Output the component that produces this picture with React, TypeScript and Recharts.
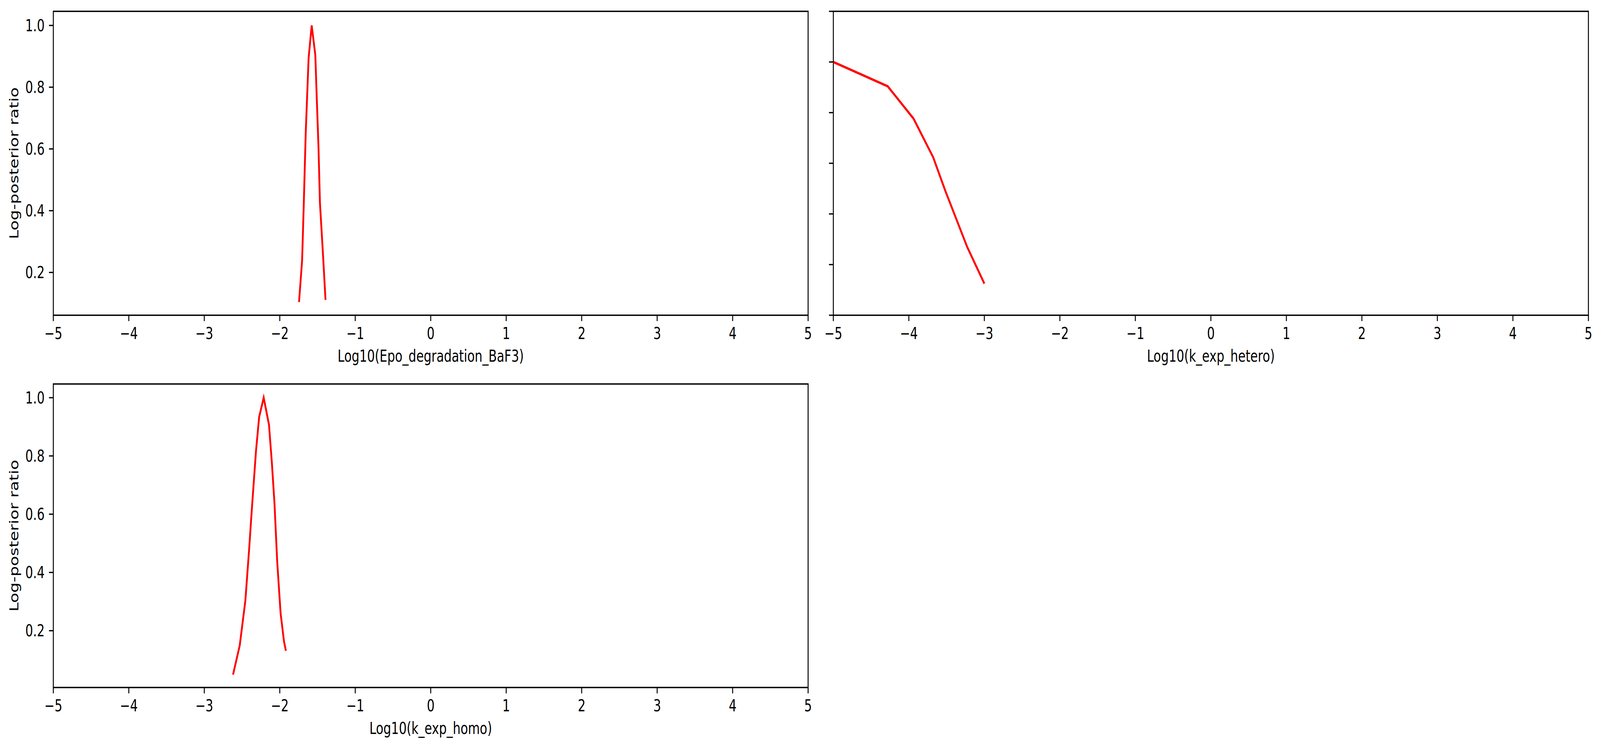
import React from "react";
import { LineChart, Line, XAxis, YAxis, ReferenceArea } from "recharts";

// x ticks shared by all three panels
const X_TICKS = [-5, -4, -3, -2, -1, 0, 1, 2, 3, 4, 5];
const Y_TICKS = [0.2, 0.4, 0.6, 0.8, 1.0];
const Y_TICKS_HETERO = [0, 0.2, 0.4, 0.6, 0.8, 1.0, 1.2];

// Log10(Epo_degradation_BaF3)
const epoX = [-1.745, -1.704, -1.682, -1.656, -1.618, -1.577, -1.529, -1.51, -1.487, -1.468, -1.426, -1.394];
const epoY = [0.104, 0.239, 0.421, 0.653, 0.894, 1.0, 0.904, 0.765, 0.606, 0.427, 0.252, 0.111];

// Log10(k_exp_hetero)
const heteroX = [-5, -4.28, -3.937, -3.677, -3.514, -3.228, -3.0];
const heteroY = [1.0, 0.904, 0.776, 0.623, 0.489, 0.27, 0.125];

// Log10(k_exp_homo)
const homoX = [-2.619, -2.53, -2.456, -2.405, -2.37, -2.315, -2.273, -2.213, -2.143, -2.104, -2.07, -2.034, -1.989, -1.944, -1.919];
const homoY = [0.049, 0.15, 0.303, 0.483, 0.617, 0.817, 0.934, 1.0, 0.907, 0.774, 0.637, 0.437, 0.26, 0.163, 0.131];

const FIG_W = 5520;
const FIG_H = 1920;
const FONT = "'DejaVu Sans', sans-serif";
const FS = 42;
const LW = 3.3;

const toRows = (xs: number[], ys: number[]) => xs.map((x, i) => ({ x, y: ys[i] }));
const fmtX = (v: number) => (v < 0 ? "\u2212" + Math.abs(v) : String(v));

type PanelProps = {
  left: number;
  top: number;
  width: number;
  height: number;
  marginTop: number;
  marginRight: number;
  yAxisWidth: number;
  xAxisHeight: number;
  labelOffset: number;
  xLabel: string;
  yLabel?: string;
  yDomain: [number, number];
  yTicks: number[];
  showYLabels: boolean;
  rows: { x: number; y: number }[];
};

function Panel(p: PanelProps) {
  const tickStyle = { fontFamily: FONT, fontSize: FS, fill: "#000" };
  return (
    <div style={{ position: "absolute", left: p.left, top: p.top }}>
      <LineChart
        width={p.width}
        height={p.height}
        data={p.rows}
        margin={{ top: p.marginTop, right: p.marginRight, left: 0, bottom: 0 }}
      >
        <XAxis
          type="number"
          dataKey="x"
          domain={[-5, 5]}
          ticks={X_TICKS}
          allowDataOverflow
          height={p.xAxisHeight}
          axisLine={false}
          tickLine={{ stroke: "#000", strokeWidth: LW }}
          tickSize={15}
          tickMargin={16}
          tick={tickStyle}
          tickFormatter={fmtX}
          interval={0}
          label={{
            value: p.xLabel,
            position: "insideBottom",
            offset: p.labelOffset,
            style: { fontFamily: FONT, fontSize: FS, fill: "#000" },
          }}
        />
        <YAxis
          type="number"
          dataKey="y"
          domain={p.yDomain}
          ticks={p.yTicks}
          allowDataOverflow
          width={p.yAxisWidth}
          axisLine={false}
          tickLine={{ stroke: "#000", strokeWidth: LW }}
          tickSize={15}
          tickMargin={15}
          tick={tickStyle}
          tickFormatter={(v: number) => (p.showYLabels ? v.toFixed(1) : "")}
          interval={0}
          label={
            p.yLabel
              ? {
                  value: p.yLabel,
                  angle: -90,
                  position: "insideLeft",
                  offset: 49,
                  style: { fontFamily: FONT, fontSize: FS, fill: "#000", textAnchor: "middle" },
                }
              : undefined
          }
        />
        <Line
          type="linear"
          dataKey="y"
          stroke="#ff0000"
          strokeWidth={6.25}
          dot={false}
          isAnimationActive={false}
        />
        <ReferenceArea
          x1={-5}
          x2={5}
          y1={p.yDomain[0]}
          y2={p.yDomain[1]}
          fill="none"
          stroke="#000"
          strokeWidth={LW}
          ifOverflow="visible"
        />
      </LineChart>
    </div>
  );
}

export default function App() {
  // the browser may give a narrower viewport than the figure; squeeze horizontally to fit
  const vw = typeof window !== "undefined" ? window.innerWidth : FIG_W;
  const sx = Math.min(1, vw / FIG_W);
  return (
    <>
      <style>{"html,body{margin:0;padding:0;background:#fff;overflow:hidden}"}</style>
      <div style={{ width: FIG_W * sx, height: FIG_H, overflow: "hidden", background: "#fff" }}>
        <div
          style={{
            position: "relative",
            width: FIG_W,
            height: FIG_H,
            transform: `scaleX(${sx})`,
            transformOrigin: "0 0",
          }}
        >
          <Panel
            left={0}
            top={0}
            width={2800}
            height={960}
            marginTop={29}
            marginRight={12}
            yAxisWidth={184}
            xAxisHeight={153}
            labelOffset={34}
            xLabel="Log10(Epo_degradation_BaF3)"
            yLabel="Log-posterior ratio"
            yDomain={[0.0614, 1.0457]}
            yTicks={Y_TICKS}
            showYLabels
            rows={toRows(epoX, epoY)}
          />
          <Panel
            left={2700}
            top={0}
            width={2820}
            height={960}
            marginTop={29}
            marginRight={40}
            yAxisWidth={175}
            xAxisHeight={153}
            labelOffset={34}
            xLabel="Log10(k_exp_hetero)"
            yDomain={[0, 1.2]}
            yTicks={Y_TICKS_HETERO}
            showYLabels={false}
            rows={toRows(heteroX, heteroY)}
          />
          <Panel
            left={0}
            top={960}
            width={2800}
            height={960}
            marginTop={23}
            marginRight={12}
            yAxisWidth={184}
            xAxisHeight={160}
            labelOffset={41}
            xLabel="Log10(k_exp_homo)"
            yLabel="Log-posterior ratio"
            yDomain={[0.005, 1.047]}
            yTicks={Y_TICKS}
            showYLabels
            rows={toRows(homoX, homoY)}
          />
        </div>
      </div>
    </>
  );
}
